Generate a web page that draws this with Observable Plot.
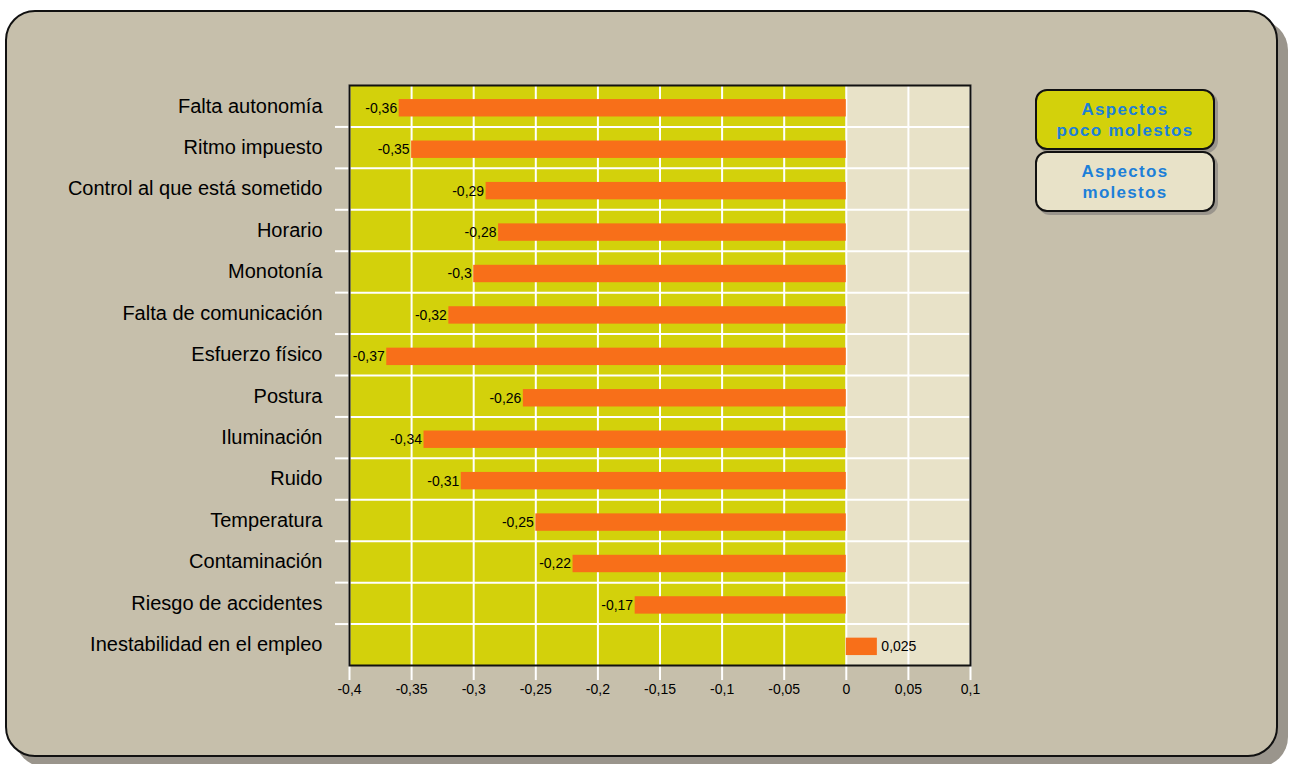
<!DOCTYPE html>
<html><head><meta charset="utf-8">
<script src="https://cdn.jsdelivr.net/npm/d3@7"></script>
<script src="https://cdn.jsdelivr.net/npm/@observablehq/plot@0.6"></script>
<style>
body{margin:0;background:#fff;width:1292px;height:764px;overflow:hidden;position:relative;font-family:"Liberation Sans",Arial,sans-serif;color:#000}
#panel{position:absolute;left:5px;top:10px;width:1273px;height:747px;box-sizing:border-box;border:2px solid #111;border-radius:30px;background:#c6bfab;box-shadow:10px 10px 0 #9a958c}
#chart{position:absolute;left:0;top:0}
.leg{position:absolute;left:1035px;width:180px;height:61px;box-sizing:border-box;border:2px solid #111;border-radius:12px;color:#1c7fd8;font-weight:bold;font-size:17px;text-align:center;display:flex;align-items:center;justify-content:center;line-height:21px;box-shadow:3px 3px 0 #9a958c;letter-spacing:1.3px}
</style></head><body>
<div id="panel"></div><div id="chart"></div>
<div class="leg" style="top:89px;background:#d3d10b">Aspectos<br>poco molestos</div>
<div class="leg" style="top:151px;background:#e8e2c8">Aspectos<br>molestos</div>
<script>
const categories = ["Falta autonomía","Ritmo impuesto","Control al que está sometido","Horario","Monotonía","Falta de comunicación","Esfuerzo físico","Postura","Iluminación","Ruido","Temperatura","Contaminación","Riesgo de accidentes","Inestabilidad en el empleo"];
const values = [-0.36,-0.35,-0.29,-0.28,-0.3,-0.32,-0.37,-0.26,-0.34,-0.31,-0.25,-0.22,-0.17,0.025];
const valueLabels = ["-0,36","-0,35","-0,29","-0,28","-0,3","-0,32","-0,37","-0,26","-0,34","-0,31","-0,25","-0,22","-0,17","0,025"];
const xTicks = [-0.4,-0.35,-0.3,-0.25,-0.2,-0.15,-0.1,-0.05,0,0.05,0.1];
const xTickLabels = ["-0,4","-0,35","-0,3","-0,25","-0,2","-0,15","-0,1","-0,05","0","0,05","0,1"];
const regionNames = ["Aspectos poco molestos","Aspectos molestos"];
const regionColors = ["#d3d10b","#e8e2c8"];

const xDomain = [xTicks[0], xTicks[xTicks.length-1]];
const regions = [{x1:xDomain[0], x2:0, name:regionNames[0]}, {x1:0, x2:xDomain[1], name:regionNames[1]}];
const rows = categories.map((c,i)=>({cat:c, i, value:values[i], label:valueLabels[i]}));
const idx = d3.range(categories.length);
const boundaries = idx.slice(1).map(i=>i-0.5);

const chart = Plot.plot({
  width:1292, height:764,
  marginLeft:349, marginRight:322, marginTop:85, marginBottom:99,
  style:{background:"transparent", fontFamily:"Liberation Sans, Arial, sans-serif", color:"#000"},
  x:{domain:xDomain},
  y:{domain:[-0.5, categories.length-0.5], reverse:true},
  marks:[
    Plot.rect(regions,{x1:"x1",x2:"x2",fill:(d,i)=>regionColors[i]}),
    Plot.ruleX(xTicks,{stroke:"white",strokeWidth:2}),
    Plot.ruleY(boundaries,{stroke:"white",strokeWidth:2}),
    Plot.axisX(xTicks,{tickSize:15,stroke:"white",strokeWidth:2,tickFormat:()=>""}),
    Plot.axisX(xTicks,{tickSize:0,tickPadding:19,fontSize:14,tickFormat:d=>xTickLabels[xTicks.indexOf(d)]}),
    Plot.axisY(boundaries,{tickSize:14,stroke:"white",strokeWidth:2,tickFormat:()=>""}),
    Plot.axisY(idx,{tickSize:0,tickPadding:27,fontSize:20,letterSpacing:0.45,tickFormat:i=>categories[i]}),
    Plot.rect(rows,{x1:0,x2:"value",y1:d=>d.i-0.16,y2:d=>d.i+0.26,fill:"#f86f19"}),
    Plot.text(rows.filter(d=>d.value<0),{x:"value",y:d=>d.i+0.05,text:"label",textAnchor:"end",dx:-2,fontSize:14}),
    Plot.text(rows.filter(d=>d.value>=0),{x:"value",y:d=>d.i+0.05,text:"label",textAnchor:"start",dx:4,fontSize:14}),
    Plot.frame({stroke:"#111",strokeWidth:2})
  ]
});
document.getElementById("chart").appendChild(chart);
</script>
</body></html>
